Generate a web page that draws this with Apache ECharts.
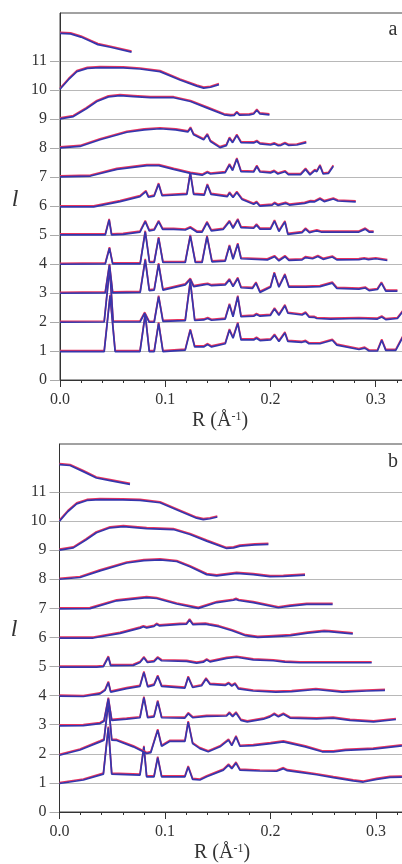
<!DOCTYPE html>
<html>
<head>
<meta charset="utf-8">
<script src="https://cdn.jsdelivr.net/npm/echarts@6/dist/echarts.min.js"></script>
<style>
html, body { margin: 0; padding: 0; background: #fff; }
#chart { width: 402px; height: 864px; }
</style>
</head>
<body>
<div id="chart"></div>
<script>
// tick labels
const yTicks = [0, 1, 2, 3, 4, 5, 6, 7, 8, 9, 10, 11];

// panel a, curves for l = 1..11, [R, offset value]
const a1 = [[0,0.98],[0.042,0.98],[0.0476,2.9],[0.0524,0.98],[0.076,0.98],[0.081,2.25],[0.0848,0.98],[0.0895,0.98],[0.0937,1.95],[0.0978,0.98],[0.119,1.03],[0.1238,1.72],[0.128,1.14],[0.1365,1.14],[0.1403,1.22],[0.144,1.14],[0.157,1.25],[0.161,1.72],[0.1644,1.44],[0.1689,1.95],[0.172,1.38],[0.184,1.38],[0.1867,1.44],[0.19,1.36],[0.2,1.38],[0.2038,1.54],[0.208,1.33],[0.2137,1.62],[0.2165,1.33],[0.23,1.3],[0.2333,1.33],[0.2365,1.25],[0.247,1.25],[0.2587,1.37],[0.263,1.2],[0.284,1.05],[0.2895,1.1],[0.2937,1.0],[0.3016,1.0],[0.3057,1.37],[0.3095,1.02],[0.319,1.02],[0.3257,1.48]];
const a2 = [[0,1.99],[0.042,2.0],[0.0472,3.85],[0.0505,2.0],[0.076,2.0],[0.0805,2.3],[0.0848,1.99],[0.0895,1.99],[0.0937,2.87],[0.0978,2.02],[0.119,2.05],[0.1238,3.39],[0.128,2.05],[0.1365,2.07],[0.1403,2.12],[0.144,2.06],[0.157,2.1],[0.161,2.59],[0.1644,2.18],[0.1689,2.87],[0.172,2.18],[0.184,2.2],[0.1867,2.26],[0.19,2.2],[0.2,2.23],[0.2038,2.45],[0.208,2.23],[0.2137,2.56],[0.2165,2.3],[0.23,2.24],[0.2333,2.31],[0.2365,2.17],[0.2413,2.16],[0.244,2.12],[0.257,2.1],[0.284,2.12],[0.3016,2.1],[0.3057,2.17],[0.3095,2.08],[0.3206,2.12],[0.3257,2.36]];
const a3 = [[0,2.99],[0.043,3.0],[0.047,3.97],[0.05,3.0],[0.0762,3.02],[0.081,4.14],[0.0848,3.08],[0.0895,3.1],[0.0937,3.99],[0.0978,3.1],[0.119,3.28],[0.1238,3.47],[0.127,3.22],[0.1365,3.28],[0.1403,3.3],[0.144,3.25],[0.157,3.28],[0.161,3.45],[0.1644,3.22],[0.1689,3.5],[0.172,3.18],[0.183,3.16],[0.1862,3.34],[0.19,3.02],[0.2,3.2],[0.2036,3.68],[0.208,3.2],[0.2137,3.62],[0.2175,3.2],[0.2286,3.2],[0.2333,3.2],[0.247,3.22],[0.2587,3.34],[0.263,3.16],[0.284,3.13],[0.29,3.17],[0.2937,3.08],[0.3016,3.12],[0.3054,3.34],[0.3095,3.06],[0.3206,3.06]];
const a4 = [[0,3.99],[0.043,4.0],[0.047,4.54],[0.05,4.0],[0.0762,4.0],[0.081,5.11],[0.085,4.05],[0.0895,4.05],[0.0937,4.89],[0.0978,4.05],[0.119,4.05],[0.1238,4.97],[0.1286,4.05],[0.135,4.05],[0.1397,4.94],[0.1444,4.07],[0.157,4.1],[0.161,4.62],[0.1644,4.16],[0.1689,4.68],[0.172,4.18],[0.197,4.14],[0.2038,4.25],[0.208,4.11],[0.2137,4.25],[0.2175,4.12],[0.23,4.14],[0.2333,4.22],[0.24,4.18],[0.245,4.26],[0.25,4.16],[0.2587,4.24],[0.263,4.14],[0.284,4.15],[0.289,4.18],[0.293,4.15],[0.3,4.18],[0.311,4.12]];
const a5 = [[0,5.0],[0.043,5.0],[0.0467,5.52],[0.049,5.0],[0.06,5.02],[0.076,5.1],[0.081,5.46],[0.0848,5.14],[0.0895,5.17],[0.0937,5.46],[0.0975,5.19],[0.108,5.19],[0.119,5.17],[0.1238,5.25],[0.13,5.1],[0.135,5.1],[0.1397,5.42],[0.1438,5.14],[0.155,5.19],[0.161,5.46],[0.1644,5.23],[0.1689,5.52],[0.172,5.25],[0.184,5.23],[0.1867,5.34],[0.19,5.2],[0.2,5.2],[0.2038,5.48],[0.208,5.12],[0.2137,5.45],[0.2165,5.02],[0.23,5.08],[0.2333,5.2],[0.237,5.08],[0.2413,5.12],[0.244,5.14],[0.248,5.1],[0.26,5.1],[0.284,5.1],[0.29,5.2],[0.2937,5.1],[0.298,5.1]];
const a6 = [[0,5.97],[0.032,5.97],[0.057,6.15],[0.076,6.32],[0.0816,6.49],[0.084,6.3],[0.0895,6.34],[0.0937,6.75],[0.097,6.35],[0.1206,6.4],[0.1238,7.13],[0.127,6.4],[0.137,6.37],[0.14,6.72],[0.1435,6.4],[0.159,6.32],[0.161,6.44],[0.1644,6.29],[0.168,6.46],[0.173,6.22],[0.184,6.06],[0.1867,6.12],[0.19,5.99],[0.2016,6.03],[0.2038,6.09],[0.207,6.02],[0.2143,6.09],[0.218,6.03],[0.2324,6.09],[0.238,6.15],[0.242,6.14],[0.247,6.24],[0.251,6.15],[0.2597,6.24],[0.264,6.17],[0.281,6.14]];
const a7 = [[0,7.0],[0.029,7.03],[0.054,7.26],[0.0825,7.39],[0.094,7.39],[0.108,7.26],[0.124,7.12],[0.135,7.06],[0.14,7.15],[0.143,7.1],[0.157,7.15],[0.161,7.41],[0.164,7.22],[0.168,7.62],[0.172,7.18],[0.184,7.17],[0.187,7.36],[0.19,7.17],[0.2,7.14],[0.2035,7.19],[0.207,7.1],[0.2137,7.18],[0.217,7.08],[0.2286,7.08],[0.2333,7.26],[0.2375,7.07],[0.242,7.22],[0.244,7.18],[0.247,7.38],[0.25,7.1],[0.255,7.12],[0.2597,7.37]];
const a8 = [[0,8.0],[0.019,8.05],[0.038,8.28],[0.0635,8.54],[0.08,8.62],[0.095,8.66],[0.11,8.62],[0.1215,8.55],[0.124,8.68],[0.127,8.45],[0.1365,8.28],[0.14,8.45],[0.143,8.22],[0.152,8.01],[0.158,8.08],[0.161,8.33],[0.164,8.18],[0.168,8.43],[0.172,8.18],[0.184,8.17],[0.187,8.22],[0.19,8.14],[0.2,8.1],[0.2035,8.14],[0.207,8.08],[0.21,8.09],[0.2137,8.15],[0.217,8.09],[0.225,8.1],[0.234,8.18]];
const a9 = [[0,9.0],[0.0127,9.08],[0.025,9.35],[0.035,9.6],[0.046,9.76],[0.057,9.8],[0.07,9.77],[0.086,9.73],[0.108,9.73],[0.124,9.6],[0.14,9.37],[0.156,9.14],[0.162,9.11],[0.1655,9.12],[0.168,9.22],[0.1705,9.13],[0.18,9.14],[0.184,9.17],[0.187,9.3],[0.19,9.17],[0.199,9.14]];
const a10 = [[0,10.02],[0.008,10.35],[0.016,10.63],[0.026,10.74],[0.038,10.77],[0.06,10.76],[0.076,10.72],[0.095,10.63],[0.114,10.34],[0.13,10.13],[0.1365,10.06],[0.143,10.09],[0.151,10.18]];
const a11 = [[0,11.95],[0.01,11.93],[0.02,11.82],[0.03,11.66],[0.036,11.56],[0.048,11.47],[0.068,11.3]];

// panel b
const b1 = [[0,0.98],[0.0226,1.1],[0.0416,1.3],[0.0463,2.9],[0.0495,1.3],[0.0763,1.27],[0.08,2.24],[0.0826,1.21],[0.0896,1.21],[0.0931,1.87],[0.0968,1.21],[0.1189,1.21],[0.122,1.55],[0.1262,1.12],[0.1331,1.1],[0.1395,1.21],[0.1553,1.44],[0.1602,1.61],[0.1633,1.49],[0.1673,1.68],[0.171,1.44],[0.19,1.41],[0.2058,1.4],[0.2122,1.49],[0.216,1.42],[0.228,1.36],[0.2437,1.28],[0.2596,1.18],[0.2785,1.07],[0.288,1.03],[0.3006,1.12],[0.3132,1.19],[0.3246,1.2]];
const b2 = [[0,1.95],[0.0194,2.13],[0.0384,2.41],[0.0422,2.47],[0.0463,3.75],[0.0495,2.47],[0.0542,2.46],[0.07,2.24],[0.0795,2.07],[0.0826,2.01],[0.0865,2.04],[0.0931,2.81],[0.0968,2.26],[0.1047,2.43],[0.1189,2.43],[0.122,3.09],[0.1262,2.35],[0.1331,2.18],[0.141,2.07],[0.1521,2.24],[0.1602,2.47],[0.1633,2.28],[0.1673,2.58],[0.171,2.26],[0.1837,2.28],[0.2,2.35],[0.2122,2.41],[0.233,2.24],[0.249,2.07],[0.2596,2.07],[0.271,2.12],[0.2974,2.16],[0.3246,2.27]];
const b3 = [[0,2.96],[0.0226,2.97],[0.0384,3.04],[0.0422,3.12],[0.0463,3.9],[0.0495,3.15],[0.0636,3.19],[0.0763,3.24],[0.08,3.93],[0.0836,3.24],[0.0896,3.27],[0.0931,3.8],[0.0968,3.24],[0.1189,3.23],[0.122,3.38],[0.1262,3.24],[0.1395,3.29],[0.1584,3.3],[0.161,3.4],[0.1641,3.28],[0.1673,3.4],[0.172,3.15],[0.178,3.1],[0.1932,3.19],[0.1995,3.27],[0.2036,3.36],[0.2075,3.27],[0.2122,3.36],[0.2185,3.23],[0.2437,3.2],[0.2594,3.23],[0.2754,3.15],[0.2977,3.1],[0.3189,3.18]];
const b4 = [[0,3.98],[0.0226,3.97],[0.0384,4.06],[0.0432,4.18],[0.0463,4.45],[0.0485,4.12],[0.0636,4.24],[0.0763,4.32],[0.08,4.8],[0.0836,4.3],[0.0896,4.36],[0.0931,4.66],[0.0968,4.32],[0.1189,4.26],[0.122,4.63],[0.1262,4.28],[0.1347,4.34],[0.1389,4.57],[0.1426,4.39],[0.157,4.35],[0.1602,4.42],[0.1633,4.33],[0.1664,4.4],[0.1696,4.23],[0.1837,4.16],[0.205,4.12],[0.22,4.14],[0.243,4.21],[0.268,4.12],[0.2911,4.16],[0.3085,4.18]];
const b5 = [[0,4.98],[0.0352,4.98],[0.0416,5.0],[0.0463,5.32],[0.0485,5.03],[0.07,5.04],[0.0763,5.14],[0.08,5.3],[0.0833,5.14],[0.0896,5.17],[0.0931,5.3],[0.0968,5.2],[0.1205,5.18],[0.13,5.12],[0.1363,5.15],[0.1395,5.23],[0.1426,5.16],[0.1584,5.28],[0.1679,5.32],[0.1837,5.23],[0.2027,5.2],[0.2137,5.15],[0.228,5.13],[0.2959,5.13]];
const b6 = [[0,5.98],[0.032,5.98],[0.0574,6.14],[0.0763,6.32],[0.0795,6.37],[0.0826,6.33],[0.0896,6.38],[0.092,6.45],[0.0945,6.4],[0.1142,6.45],[0.1205,6.46],[0.1233,6.6],[0.1265,6.44],[0.1382,6.46],[0.1395,6.48],[0.142,6.43],[0.1511,6.37],[0.1637,6.23],[0.1764,6.06],[0.1878,6.0],[0.1985,6.02],[0.219,6.06],[0.235,6.15],[0.2508,6.21],[0.2554,6.2],[0.278,6.12]];
const b7 = [[0,6.98],[0.0289,6.99],[0.0542,7.26],[0.0826,7.37],[0.0921,7.34],[0.1111,7.15],[0.1316,7.0],[0.149,7.2],[0.1648,7.28],[0.1673,7.31],[0.17,7.27],[0.1837,7.2],[0.2074,7.02],[0.2185,7.08],[0.2343,7.14],[0.2589,7.14]];
const b8 = [[0,8.0],[0.0194,8.06],[0.0384,8.29],[0.0637,8.56],[0.08,8.64],[0.0953,8.67],[0.1111,8.61],[0.1237,8.43],[0.1395,8.16],[0.149,8.12],[0.1679,8.2],[0.1837,8.16],[0.1995,8.09],[0.2122,8.1],[0.2327,8.14]];
const b9 = [[0,9.0],[0.0131,9.08],[0.025,9.35],[0.035,9.6],[0.048,9.77],[0.0605,9.81],[0.0826,9.74],[0.1079,9.71],[0.1237,9.54],[0.1395,9.31],[0.1584,9.06],[0.165,9.08],[0.171,9.14],[0.185,9.18],[0.198,9.2]];
const b10 = [[0,10.0],[0.008,10.33],[0.0163,10.59],[0.026,10.71],[0.0384,10.74],[0.06,10.73],[0.0763,10.71],[0.0953,10.63],[0.1142,10.34],[0.13,10.1],[0.1363,10.05],[0.1426,10.08],[0.1496,10.14]];
const b11 = [[0,11.94],[0.01,11.91],[0.0226,11.7],[0.035,11.48],[0.048,11.39],[0.0668,11.26]];

const panelA = [a1, a2, a3, a4, a5, a6, a7, a8, a9, a10, a11];
const panelB = [b1, b2, b3, b4, b5, b6, b7, b8, b9, b10, b11];

const serif = '"Liberation Serif", serif';
const BLUE = '#3536ad';
const RED = '#e8345e';

const chart = echarts.init(document.getElementById('chart'));

function curve(data, idx) {
    return {
        type: 'line', xAxisIndex: idx, yAxisIndex: idx, data: data,
        symbol: 'none', silent: true, animation: false,
        lineStyle: { color: BLUE, width: 1.7, shadowColor: RED, shadowOffsetY: -1, shadowBlur: 0 }
    };
}

function xAxis(idx) {
    return {
        type: 'value', gridIndex: idx, min: 0, max: 0.4, interval: 0.1,
        axisLine: { lineStyle: { color: '#333', width: 1 } },
        axisTick: { length: 7, lineStyle: { color: '#333' } },
        minorTick: { show: true, splitNumber: 5, length: 3, lineStyle: { color: '#333' } },
        splitLine: { show: false },
        axisLabel: { fontFamily: serif, fontSize: 16, color: '#333', margin: 12, formatter: v => v.toFixed(1) }
    };
}

function yAxis(idx) {
    return {
        type: 'value', gridIndex: idx, min: 0, max: 12.65, interval: 1,
        axisLine: { lineStyle: { color: '#333' } },
        axisTick: { length: 10, customValues: yTicks, lineStyle: { color: '#aaa' } },
        axisLabel: { customValues: yTicks, fontFamily: serif, fontSize: 16, color: '#333', margin: 13 },
        splitLine: { show: true, lineStyle: { color: '#b8b8b8', width: 1 } }
    };
}

function label(x, y, text, size, italic) {
    return {
        type: 'text', x: x, y: y, silent: true,
        style: {
            text: text, fill: '#333', align: 'center', verticalAlign: 'middle',
            font: (italic ? 'italic ' : '') + size + 'px ' + serif,
            rich: { s: { fontSize: 12, fontFamily: serif, verticalAlign: 'top', fill: '#333' } }
        }
    };
}

chart.setOption({
    animation: false,
    grid: [
        { left: 60, top: 13, width: 421, height: 367, outerBoundsMode: 'none', containLabel: false, show: true, borderColor: '#444', borderWidth: 1 },
        { left: 59.5, top: 444, width: 422, height: 368, outerBoundsMode: 'none', containLabel: false, show: true, borderColor: '#444', borderWidth: 1 }
    ],
    xAxis: [xAxis(0), xAxis(1)],
    yAxis: [yAxis(0), yAxis(1)],
    series: panelA.map(d => curve(d, 0)).concat(panelB.map(d => curve(d, 1))),
    graphic: [
        label(393, 30, 'a', 20),
        label(393, 462, 'b', 20),
        label(15, 200, 'l', 24, true),
        label(14, 630, 'l', 24, true),
        label(220, 421, 'R (Å{s|-1})', 20),
        label(222, 853, 'R (Å{s|-1})', 20)
    ]
});
</script>
</body>
</html>
